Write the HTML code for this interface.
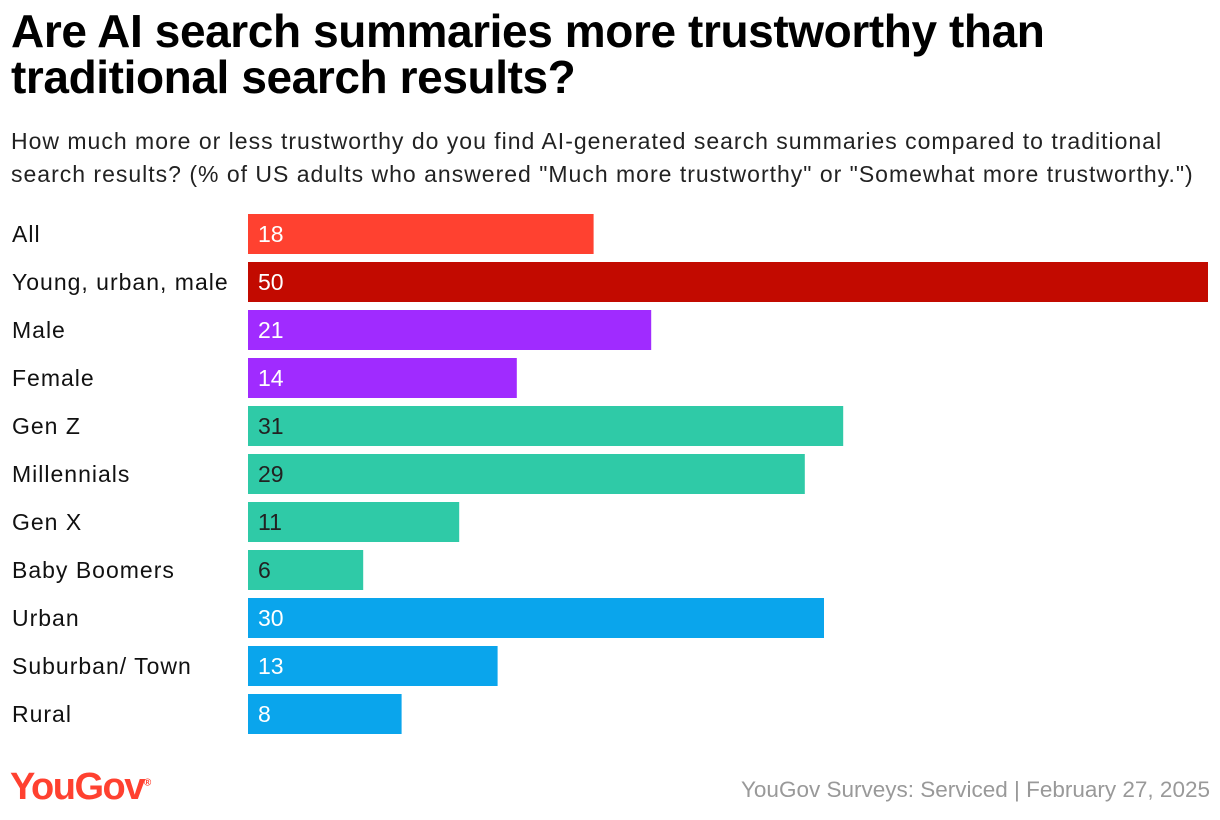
<!DOCTYPE html>
<html><head><meta charset="utf-8"><style>
body{margin:0;width:1220px;height:820px;background:#fff;font-family:"Liberation Sans",sans-serif;overflow:hidden;position:relative}
h1{position:absolute;left:11px;top:8px;margin:0;font-size:46px;line-height:46px;font-weight:bold;color:#000;letter-spacing:-0.4px;white-space:nowrap}
.sub{position:absolute;left:11px;top:125px;font-size:23px;line-height:33px;color:#222;white-space:nowrap;letter-spacing:1px}
.logo{position:absolute;left:10px;top:766px;font-size:38px;font-weight:bold;color:#ff4130;letter-spacing:-1.5px}
.src{position:absolute;right:10px;top:777px;font-size:22.5px;color:#999}
</style></head><body>
<h1>Are AI search summaries more trustworthy than<br>traditional search results?</h1>
<div class="sub">How much more or less trustworthy do you find AI-generated search summaries compared to traditional<br>search results? (% of US adults who answered "Much more trustworthy" or "Somewhat more trustworthy.")</div>
<svg id="chart" width="1220" height="820" style="position:absolute;left:0;top:0"></svg>
<div class="logo">YouGov<sup style="font-size:10px">®</sup></div>
<div class="src">YouGov Surveys: Serviced | February 27, 2025</div>
<script>
const categories=["All","Young, urban, male","Male","Female","Gen Z","Millennials","Gen X","Baby Boomers","Urban","Suburban/ Town","Rural"];
const values=[18,50,21,14,31,29,11,6,30,13,8];
const groups=["all","yum","gender","gender","gen","gen","gen","gen","area","area","area"];
const colors={all:"#ff4130",yum:"#c20a00",gender:"#a02bff",gen:"#2fcaa7",area:"#0aa5ec"};
const textColors={all:"#fff",yum:"#fff",gender:"#fff",gen:"#222",area:"#fff"};
const NS="http://www.w3.org/2000/svg";
const svg=document.getElementById("chart");
const x0=248,x1=1208,maxV=50;
const xScale=v=>(v/maxV)*(x1-x0);
const yScale=i=>214+i*48;
categories.forEach((c,i)=>{
  const y=yScale(i);
  const lab=document.createElementNS(NS,"text");
  
  
  lab.setAttribute("x",12);lab.setAttribute("y",y+28);
  lab.setAttribute("font-size","23");lab.setAttribute("fill","#111");
  lab.setAttribute("letter-spacing","1");
  lab.setAttribute("font-family","Liberation Sans, sans-serif");
  lab.textContent=c;svg.appendChild(lab);
  const r=document.createElementNS(NS,"rect");
  
  
  r.setAttribute("x",x0);r.setAttribute("y",y);
  r.setAttribute("width",xScale(values[i]));r.setAttribute("height",40);
  r.setAttribute("fill",colors[groups[i]]);svg.appendChild(r);
  const t=document.createElementNS(NS,"text");
  
  
  t.setAttribute("x",x0+10);t.setAttribute("y",y+28);
  t.setAttribute("font-size","23");t.setAttribute("fill",textColors[groups[i]]);
  t.setAttribute("font-family","Liberation Sans, sans-serif");
  t.textContent=values[i];svg.appendChild(t);
});
</script>
</body></html>
